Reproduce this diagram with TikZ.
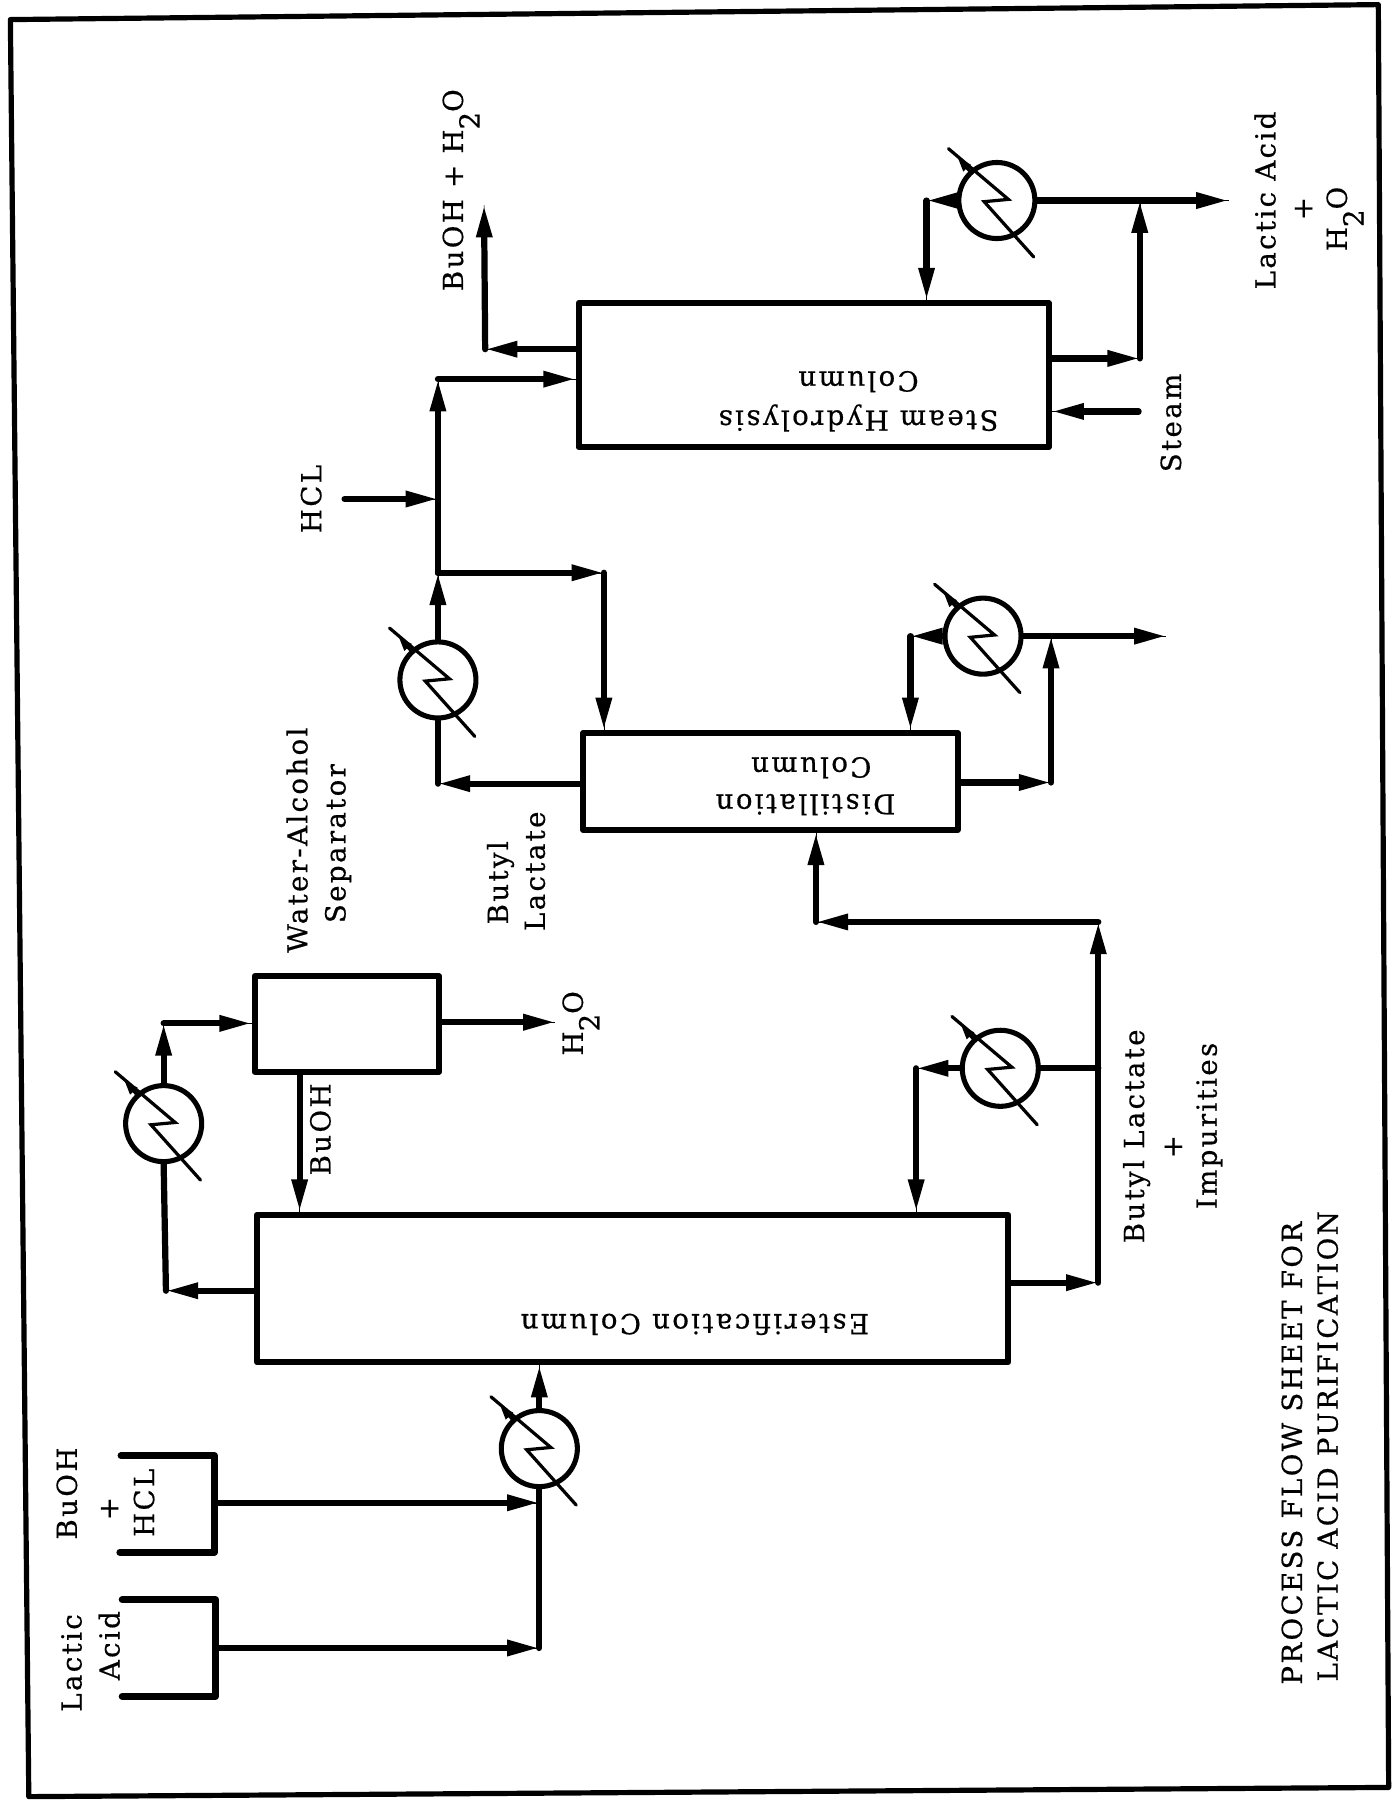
\documentclass[tikz,border=0pt]{standalone}
\usepackage{fontspec}
\setmainfont[LetterSpace=8.5,FakeBold=0.5]{DejaVu Serif}
\usetikzlibrary{arrows.meta}
\newcommand{\lowtwo}{\raisebox{-0.6em}{2}}
\newcommand{\hxsym}[1]{%
  \draw[hxline] ([shift={(-42,-45)}]#1.center) -- ([shift={(10,-1)}]#1.center) -- ([shift={(-11,1)}]#1.center) -- ([shift={(32,49)}]#1.center);
  \draw[hxtip] ([shift={(-22,-24)}]#1.center) -- ([shift={(-34,-37)}]#1.center);
}
\tikzset{
  x=1pt,y=-1pt,
  boxn/.style={draw,line width=5.2pt,minimum width=#1,inner sep=0pt,line join=round},
  hxc/.style={draw,circle,line width=4.4pt,minimum size=66pt,inner sep=0pt},
  hxline/.style={line width=2.8pt,line join=miter,line cap=round},
  hxtip/.style={line width=2.8pt,-{Triangle[length=12pt,width=8pt]}},
  pipe/.style={line width=5.4pt,line cap=round,line join=round},
  tank/.style={line width=6pt,line cap=round,line join=round},
  flow/.style={line width=5.4pt,line cap=round,-{Triangle[length=28pt,width=13pt]},preaction={draw,-}},
  lbl/.style={font=\fontsize{24}{28}\selectfont,inner sep=0pt,rotate=90,text height=17.5pt,text depth=0pt},
  col/.style={font=\fontsize{24}{28}\selectfont,inner sep=0pt,rotate=180,text height=17.5pt,text depth=0pt},
}
\begin{document}
\begin{tikzpicture}
\useasboundingbox (0,0) rectangle (1208,1568);
% frame
\coordinate (ftl) at (9,17);
\coordinate (ftr) at (1196,4);
\coordinate (fbr) at (1205,1551);
\coordinate (fbl) at (25,1559);
\draw[line width=4.5pt,line join=round] (ftl) -- (ftr) -- (fbr) -- (fbl) -- cycle;
% vessels
\node[boxn=408pt,minimum height=125pt] (steam) at (706,325.5) {};
\node[boxn=325pt,minimum height=84pt] (dist) at (668.5,678) {};
\node[boxn=652pt,minimum height=128pt] (ester) at (549,1118) {};
\node[boxn=160pt,minimum height=83pt] (sep) at (301,888.5) {};
% exchangers
\node[hxc] (hxa) at (865,174) {};
\node[hxc] (hxb) at (380,590) {};
\node[hxc] (hxc1) at (853,552) {};
\node[hxc] (hxd) at (142,975) {};
\node[hxc] (hxe) at (868,927) {};
\node[hxc] (hxf) at (468,1257) {};
\hxsym{hxa}\hxsym{hxb}\hxsym{hxc1}\hxsym{hxd}\hxsym{hxe}\hxsym{hxf}
% tanks
\coordinate (tbt) at (105,1263);
\coordinate (tbu) at (186,1263);
\coordinate (tbl) at (186,1347);
\coordinate (tbb) at (104,1347);
\coordinate (tlt) at (106,1388);
\coordinate (tlu) at (187,1388);
\coordinate (tll) at (187,1472);
\coordinate (tlb) at (106,1472);
\draw[tank] (tbt) -- (tbu) -- (tbl) -- (tbb);
\draw[tank] (tlt) -- (tlu) -- (tll) -- (tlb);
% feed
\coordinate (tbo) at (186,1304);
\coordinate (tlo) at (187,1430);
\coordinate (fj) at (468,1304);
\coordinate (fk) at (468,1430);
\draw[flow] (tbo) -- (fj);
\draw[flow] (tlo) -- (fk);
\draw[pipe] (fk) -- (hxf.south);
\draw[flow] (hxf.north) -- (hxf.north |- ester.south);
% esterification overhead
\coordinate (eo) at (144,1120);
\draw[flow] (ester.west |- eo) -- (eo);
\draw[pipe] (eo) -- (hxd.south);
\coordinate (so) at (142,888);
\draw[flow] (hxd.north) -- (so);
\draw[flow] (so) -- (sep.west |- so);
\coordinate (wo) at (482,887);
\draw[flow] (sep.east |- wo) -- (wo);
\coordinate (br) at (260,1000);
\draw[flow] (br |- sep.south) -- (br |- ester.north);
% esterification bottoms
\coordinate (eb) at (953,1113);
\coordinate (et) at (953,800);
\coordinate (ej) at (953,927);
\coordinate (ec) at (795,927);
\draw[flow] (ester.east |- eb) -- (eb);
\draw[pipe] (eb) -- (ej);
\draw[flow] (ej) -- (et);
\draw[pipe] (hxe.east) -- (ej);
\draw[flow] (hxe.west) -- (ec);
\draw[flow] (ec) -- (ec |- ester.north);
\coordinate (ed) at (708,800);
\draw[flow] (et) -- (ed);
\draw[flow] (ed) -- (ed |- dist.south);
% distillation
\coordinate (do) at (380,680);
\draw[flow] (dist.west |- do) -- (do);
\draw[pipe] (do) -- (hxb.south);
\coordinate (dj) at (380,497);
\coordinate (dr) at (524,497);
\draw[flow] (hxb.north) -- (dj);
\draw[flow] (dj) -- (dr);
\draw[flow] (dr) -- (dr |- dist.north);
\coordinate (dc) at (790,552);
\draw[flow] (hxc1.west) -- (dc);
\draw[flow] (dc) -- (dc |- dist.north);
\coordinate (dbo) at (912,679);
\coordinate (dbj) at (912,552);
\coordinate (dbe) at (1012,552);
\draw[flow] (dist.east |- dbo) -- (dbo);
\draw[flow] (dbo) -- (dbj);
\draw[flow] (hxc1.east) -- (dbe);
% steam column
\coordinate (hc) at (299,433);
\coordinate (hj) at (380,433);
\coordinate (sc) at (380,329);
\coordinate (si) at (500,329);
\draw[flow] (hc) -- (hj);
\draw[pipe] (dj) -- (hj);
\draw[flow] (hj) -- (sc);
\draw[flow] (sc) -- (steam.west |- si);
\coordinate (bo) at (421,303);
\coordinate (be) at (420,178);
\draw[flow] (steam.west |- bo) -- (bo);
\draw[flow] (bo) -- (be);
\coordinate (sb) at (989,311);
\coordinate (sj) at (989,174);
\coordinate (se) at (1066,174);
\draw[flow] (steam.east |- sb) -- (sb);
\draw[flow] (sb) -- (sj);
\draw[flow] (hxa.east) -- (se);
\coordinate (sc2) at (804,174);
\draw[flow] (hxa.west) -- (sc2);
\draw[flow] (sc2) -- (sc2 |- steam.north);
\coordinate (st) at (988,357);
\draw[flow] (st) -- (steam.east |- st);
% labels
\node[lbl] (t1) at (393,165) {BuOH + H\lowtwo O};
\node[lbl] (t2) at (270,433) {HCL};
\node[lbl] (t3) at (1098,174) {Lactic Acid};
\node[lbl] (t4) at (1130,181) {+};
\node[lbl] (t5) at (1160,190) {H\lowtwo O};
\node[lbl] (t6) at (1016,367) {Steam};
\node[lbl] (t7) at (258,729) {Water-Alcohol};
\node[lbl] (t8) at (291,732) {Separator};
\node[lbl] (t9) at (432,766) {Butyl};
\node[lbl] (t10) at (464,756) {Lactate};
\node[lbl] (t11) at (984,986) {Butyl Lactate};
\node[lbl] (t12) at (1017,995) {+};
\node[lbl] (t13) at (1047,977) {Impurities};
\node[lbl] (t14) at (497,888) {H\lowtwo O};
\node[lbl] (t15) at (278,980) {BuOH};
\node[lbl] (t16) at (58,1296) {BuOH};
\node[lbl] (t17) at (94,1309) {+};
\node[lbl] (t18) at (125,1304) {HCL};
\node[lbl] (t19) at (62,1443) {Lactic};
\node[lbl] (t20) at (95,1428) {Acid};
\node[lbl] (t21) at (1121,1261) {PROCESS FLOW SHEET FOR};
\node[lbl] (t22) at (1152,1255) {LACTIC ACID PURIFICATION};
\node[col] (c1) at (603,1149) {Esterification Column};
\node[col] (c2) at (745,365) {Steam Hydrolysis};
\node[col] (c3) at (745,331) {Column};
\node[col] (c4) at (699,698) {Distillation};
\node[col] (c5) at (704,666) {Column};
\end{tikzpicture}
\end{document}
